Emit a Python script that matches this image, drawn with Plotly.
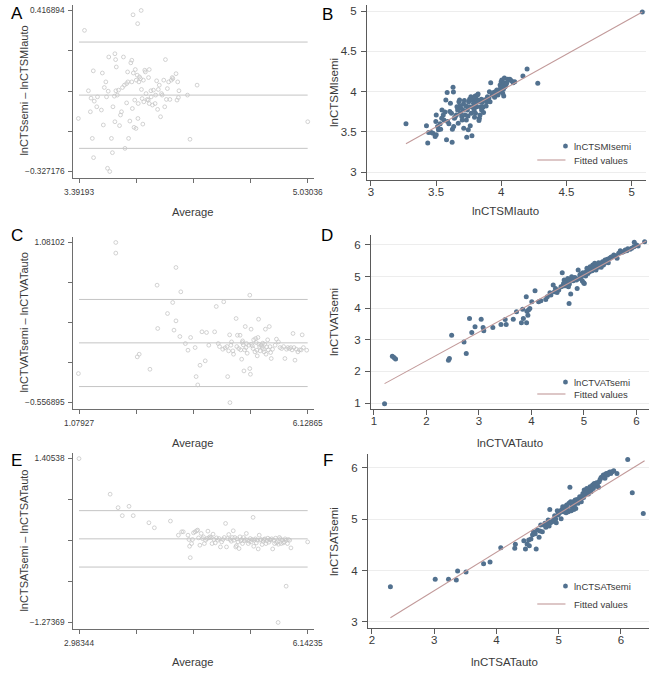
import numpy as np
import plotly.graph_objects as go

W, H = 663, 673
FONT = "Liberation Sans, Arial, Helvetica, sans-serif"

# ---------------- data ----------------
# Panel A: Bland-Altman lnCTSMI
a_avg = [3.387, 3.431, 3.459, 3.473, 3.478, 3.494, 3.501, 3.487, 3.496, 3.524,
         3.519, 3.552, 3.559, 3.566, 3.573, 3.584, 3.589, 3.601, 3.605, 3.596,
         3.612, 3.624, 3.631, 3.635, 3.645, 3.649, 3.654, 3.656, 3.659, 3.649,
         3.666, 3.675, 3.682, 3.689, 3.696, 3.703, 3.710, 3.717, 3.721, 3.733,
         3.733, 3.740, 3.742, 3.747, 3.756, 3.763, 3.770, 3.770, 3.774, 3.779,
         3.781, 3.786, 3.791, 3.795, 3.800, 3.802, 3.809, 3.812, 3.814, 3.816,
         3.821, 3.825, 3.832, 3.837, 3.839, 3.844, 3.849, 3.853, 3.856, 3.863,
         3.867, 3.872, 3.881, 3.888, 3.890, 3.895, 3.895, 3.907, 3.909, 3.918,
         3.925, 3.937, 3.941, 3.948, 3.955, 3.960, 3.967, 3.976, 3.983, 3.988,
         3.999, 4.006, 4.011, 4.018, 4.025, 4.034, 4.043, 4.053, 4.060, 4.064,
         4.087, 4.094, 4.099, 4.104, 4.108, 4.169, 4.187, 4.238, 5.031]
a_diff = [-0.082, 0.325, 0.046, -0.051, 0.012, 0.138, -0.002, -0.174, -0.263, 0.018,
          -0.028, -0.043, 0.128, -0.112, 0.061, 0.087, 0.018, 0.044, 0.202, -0.312,
          -0.327, -0.174, -0.240, -0.028, 0.021, 0.217, 0.190, 0.046, 0.156, -0.097,
          0.026, 0.049, -0.115, -0.066, -0.051, 0.061, 0.202, 0.072, -0.220, -0.010,
          0.079, 0.133, 0.087, -0.174, -0.094, 0.175, 0.187, 0.087, -0.036, 0.397,
          0.128, -0.123, 0.003, 0.144, -0.128, 0.095, 0.118, 0.356, -0.082, -0.013,
          0.087, 0.110, 0.102, 0.417, 0.052, 0.010, -0.108, 0.095, -0.005, 0.141,
          0.133, 0.033, 0.006, 0.003, 0.107, 0.144, -0.013, 0.046, 0.018, -0.020,
          0.049, -0.013, 0.026, 0.092, -0.040, 0.052, 0.072, -0.074, 0.033, 0.026,
          0.095, -0.028, 0.190, 0.006, 0.056, 0.087, 0.006, 0.095, 0.107, 0.102,
          0.125, 0.003, 0.087, 0.015, 0.046, 0.026, -0.178, 0.072, -0.097]
a_limits = [0.271, 0.026, -0.220]
a_xends = [3.39193, 5.03036]
a_yends = [-0.327176, 0.416894]
a_xticklabels = ["3.39193", "", "", "", "5.03036"]
a_yticklabels = ["\u22120.327176", "", "", "", "0.416894"]

# Panel B: lnCTSMIsemi vs lnCTSMIauto
b_auto = [3.269, 3.426, 3.436, 3.443, 3.463, 3.476, 3.493, 3.501, 3.498, 3.501,
          3.511, 3.518, 3.531, 3.535, 3.543, 3.545, 3.555, 3.560, 3.568, 3.575,
          3.580, 3.585, 3.588, 3.598, 3.605, 3.610, 3.618, 3.623, 3.625, 3.630,
          3.633, 3.635, 3.640, 3.645, 3.655, 3.660, 3.665, 3.670, 3.675, 3.680,
          3.682, 3.687, 3.692, 3.697, 3.700, 3.705, 3.710, 3.712, 3.717, 3.722,
          3.730, 3.732, 3.735, 3.740, 3.745, 3.747, 3.750, 3.755, 3.757, 3.762,
          3.767, 3.770, 3.775, 3.780, 3.782, 3.787, 3.792, 3.795, 3.800, 3.802,
          3.804, 3.809, 3.812, 3.817, 3.819, 3.822, 3.824, 3.829, 3.832, 3.837,
          3.842, 3.847, 3.849, 3.854, 3.859, 3.864, 3.869, 3.879, 3.884, 3.889,
          3.894, 3.899, 3.904, 3.909, 3.914, 3.919, 3.929, 3.941, 3.949, 3.954,
          3.959, 3.966, 3.974, 3.984, 3.991, 3.996, 3.996, 3.999, 4.004, 4.009,
          4.011, 4.016, 4.019, 4.021, 4.024, 4.029, 4.034, 4.041, 4.049, 4.054,
          4.066, 4.078, 4.091, 4.103, 4.166, 4.198, 4.280, 5.082]
b_semi = [3.598, 3.573, 3.359, 3.491, 3.491, 3.482, 3.441, 3.462, 3.627, 3.709,
          3.565, 3.524, 3.598, 3.532, 3.668, 3.771, 3.709, 3.647, 3.746, 3.895,
          3.400, 3.986, 3.627, 3.598, 3.750, 3.854, 3.730, 3.371, 3.532, 4.052,
          3.994, 3.565, 3.668, 3.680, 3.709, 3.812, 3.771, 3.606, 3.874, 3.895,
          3.821, 3.730, 3.792, 3.689, 3.647, 3.771, 3.845, 3.544, 3.887, 3.709,
          3.821, 3.647, 3.433, 3.771, 3.697, 3.524, 3.874, 3.812, 3.903, 3.573,
          3.936, 3.730, 3.449, 3.804, 3.895, 3.854, 3.771, 3.680, 3.944, 3.730,
          3.915, 3.862, 3.812, 3.957, 3.895, 3.969, 3.874, 3.639, 3.668, 3.709,
          3.812, 3.903, 3.771, 3.862, 3.804, 3.738, 3.895, 3.895, 3.821, 3.874,
          3.936, 3.895, 3.915, 3.998, 3.874, 4.109, 3.957, 3.986, 3.928, 3.998,
          3.969, 4.019, 3.957, 4.019, 4.080, 4.052, 3.998, 4.122, 4.142, 4.068,
          3.977, 4.027, 3.944, 4.109, 4.167, 4.060, 4.080, 4.101, 4.151, 4.142,
          4.151, 4.134, 4.109, 4.122, 4.192, 4.278, 4.101, 4.988]
b_fit_x = [3.269, 5.082]
b_fit_y = [3.351, 4.988]
b_ticks = [3, 3.5, 4, 4.5, 5]

# Panel C: Bland-Altman lnCTVAT
c_avg = [1.065, 1.891, 1.891, 2.365, 2.408, 2.645, 2.803, 2.817, 3.033, 3.148,
         3.176, 3.220, 3.220, 3.306, 3.327, 3.428, 3.485, 3.543, 3.643, 3.665,
         3.701, 3.751, 3.794, 3.866, 3.895, 3.945, 4.074, 4.110, 4.153, 4.182,
         4.254, 4.275, 4.304, 4.347, 4.362, 4.383, 4.405, 4.412, 4.433, 4.448,
         4.477, 4.491, 4.548, 4.563, 4.577, 4.606, 4.635, 4.649, 4.671, 4.685,
         4.692, 4.706, 4.721, 4.735, 4.750, 4.764, 4.778, 4.793, 4.829, 4.850,
         4.850, 4.864, 4.879, 4.886, 4.908, 4.922, 4.936, 4.965, 4.979, 4.994,
         5.008, 5.015, 5.030, 5.044, 5.051, 5.066, 5.080, 5.101, 5.123, 5.137,
         5.152, 5.166, 5.180, 5.195, 5.209, 5.224, 5.245, 5.259, 5.281, 5.295,
         5.310, 5.324, 5.353, 5.410, 5.439, 5.482, 5.518, 5.554, 5.597, 5.626,
         5.662, 5.690, 5.726, 5.755, 5.784, 5.805, 5.827, 5.848, 5.877, 5.913,
         5.949, 5.985, 6.007, 6.035, 6.107]
c_diff = [-0.260, 1.081, 0.972, -0.089, -0.062, -0.216, 0.644, 0.201, 0.354, 0.467,
          0.184, 0.825, 0.279, 0.119, 0.576, 0.047, -0.021, 0.109, 0.006, -0.291,
          -0.376, -0.175, 0.167, -0.130, 0.160, 0.030, 0.167, 0.426, 0.047, 0.016,
          -0.011, 0.474, 0.003, 0.016, -0.291, -0.028, 0.136, -0.557, 0.030, 0.064,
          -0.028, -0.062, 0.303, 0.016, 0.132, -0.004, 0.132, -0.018, -0.113, 0.057,
          0.074, 0.034, -0.233, -0.018, 0.221, 0.006, 0.047, -0.052, 0.030, 0.542,
          -0.209, -0.267, 0.194, 0.040, 0.023, -0.004, 0.085, -0.038, 0.098, 0.057,
          -0.021, -0.079, 0.109, 0.296, 0.040, 0.016, -0.028, 0.030, 0.006, 0.051,
          -0.011, -0.038, 0.040, 0.194, -0.062, 0.013, 0.085, -0.018, 0.221, 0.016,
          -0.045, -0.106, -0.011, 0.030, 0.092, 0.064, 0.006, -0.004, 0.016, -0.106,
          -0.011, 0.006, -0.004, 0.006, -0.018, 0.150, 0.006, -0.123, -0.011, -0.038,
          -0.018, -0.018, 0.136, 0.006, -0.021]
c_limits = [0.498, 0.054, -0.393]
c_xends = [1.07927, 6.12865]
c_yends = [-0.556895, 1.08102]
c_xticklabels = ["1.07927", "", "", "", "6.12865"]
c_yticklabels = ["\u22120.556895", "", "", "", "1.08102"]

# Panel D: lnCTVATsemi vs lnCTVATauto
d_auto = [1.204, 1.352, 1.383, 1.414, 2.420, 2.438, 2.481, 2.716, 2.759, 2.821,
          2.864, 2.926, 3.043, 3.080, 3.093, 3.265, 3.420, 3.500, 3.519, 3.654,
          3.716, 3.809, 3.833, 3.846, 3.901, 3.907, 3.914, 3.932, 3.944, 3.969,
          4.006, 4.068, 4.136, 4.179, 4.272, 4.302, 4.352, 4.370, 4.414, 4.438,
          4.457, 4.488, 4.519, 4.562, 4.586, 4.599, 4.611, 4.623, 4.642, 4.660,
          4.673, 4.691, 4.704, 4.716, 4.722, 4.735, 4.747, 4.765, 4.796, 4.827,
          4.858, 4.870, 4.889, 4.907, 4.920, 4.938, 4.951, 4.969, 4.981, 4.994,
          5.006, 5.019, 5.031, 5.043, 5.056, 5.074, 5.086, 5.105, 5.117, 5.136,
          5.154, 5.167, 5.185, 5.204, 5.216, 5.228, 5.247, 5.265, 5.278, 5.290,
          5.309, 5.327, 5.340, 5.352, 5.370, 5.389, 5.401, 5.426, 5.444, 5.463,
          5.488, 5.512, 5.537, 5.568, 5.599, 5.630, 5.660, 5.691, 5.722, 5.753,
          5.784, 5.815, 5.833, 5.877, 5.907, 5.951, 5.957, 6.000, 6.031, 6.154]
d_semi = [0.979, 2.480, 2.438, 2.395, 2.353, 2.406, 3.146, 2.934, 2.564, 3.674,
          3.230, 3.410, 3.653, 3.389, 3.283, 3.389, 3.484, 3.643, 3.484, 3.653,
          3.886, 3.537, 3.970, 3.674, 4.362, 3.537, 3.907, 3.780, 3.939, 3.992,
          4.203, 4.552, 4.203, 4.235, 4.277, 4.362, 4.488, 4.414, 4.731, 4.520,
          4.626, 4.499, 4.573, 4.679, 5.123, 4.700, 4.784, 4.890, 4.710, 4.837,
          4.763, 4.943, 4.679, 4.150, 4.763, 4.890, 4.446, 4.996, 4.869, 4.975,
          4.890, 4.626, 5.207, 4.943, 5.049, 5.080, 4.996, 4.858, 5.123, 4.805,
          4.784, 5.101, 5.017, 5.154, 5.260, 5.101, 5.207, 5.154, 5.313, 5.228,
          5.186, 5.366, 5.292, 5.419, 5.313, 5.207, 5.334, 5.292, 5.440, 5.366,
          5.334, 5.292, 5.419, 5.471, 5.366, 5.419, 5.524, 5.471, 5.545, 5.440,
          5.577, 5.609, 5.630, 5.683, 5.651, 5.577, 5.736, 5.820, 5.767, 5.789,
          5.841, 5.820, 5.884, 5.863, 5.894, 5.947, 6.085, 6.000, 5.968, 6.106]
d_fit_x = [1.204, 6.185]
d_fit_y = [1.613, 6.127]
d_ticks = [1, 2, 3, 4, 5, 6]

# Panel E: Bland-Altman lnCTSAT
e_avg = [2.983, 3.413, 3.523, 3.581, 3.674, 3.732, 3.949, 4.024, 4.246, 4.356,
         4.401, 4.423, 4.489, 4.502, 4.511, 4.520, 4.538, 4.551, 4.565, 4.587,
         4.609, 4.622, 4.635, 4.653, 4.671, 4.689, 4.702, 4.715, 4.733, 4.751,
         4.764, 4.777, 4.790, 4.808, 4.821, 4.835, 4.848, 4.866, 4.883, 4.901,
         4.919, 4.937, 4.954, 4.972, 4.990, 5.008, 5.021, 5.034, 5.052, 5.070,
         5.087, 5.101, 5.114, 5.123, 5.136, 5.149, 5.158, 5.167, 5.180, 5.194,
         5.207, 5.220, 5.229, 5.242, 5.256, 5.269, 5.282, 5.295, 5.309, 5.322,
         5.335, 5.349, 5.362, 5.375, 5.388, 5.397, 5.406, 5.420, 5.433, 5.446,
         5.459, 5.473, 5.486, 5.499, 5.513, 5.526, 5.539, 5.552, 5.566, 5.579,
         5.592, 5.606, 5.619, 5.632, 5.645, 5.659, 5.672, 5.685, 5.699, 5.712,
         5.725, 5.738, 5.752, 5.765, 5.778, 5.792, 5.805, 5.818, 5.831, 5.845,
         5.845, 5.863, 5.876, 5.894, 5.911, 6.142, 5.734]
e_diff = [1.405, 0.823, 0.603, 0.472, 0.625, 0.472, 0.356, 0.274, 0.384, 0.153,
          0.208, 0.208, 0.153, 0.082, -0.028, -0.215, 0.016, 0.082, 0.192, 0.208,
          0.225, 0.236, 0.109, -0.011, 0.181, 0.098, 0.126, 0.016, 0.071, 0.098,
          0.219, 0.109, 0.126, 0.115, 0.016, 0.170, 0.082, 0.027, 0.109, 0.071,
          0.098, -0.039, 0.043, 0.082, 0.115, 0.345, -0.039, 0.098, 0.164, 0.082,
          0.054, 0.115, 0.225, 0.071, 0.115, -0.039, -0.017, 0.093, 0.043, -0.066,
          0.126, 0.060, 0.082, 0.016, 0.115, 0.060, 0.082, 0.181, 0.071, 0.016,
          0.054, 0.098, 0.043, 0.082, 0.444, -0.028, 0.071, 0.093, 0.027, 0.071,
          -0.072, 0.153, 0.071, 0.082, 0.000, 0.054, 0.082, 0.093, 0.016, 0.060,
          0.104, 0.038, 0.082, 0.071, 0.093, -0.072, 0.071, 0.016, 0.104, 0.027,
          0.043, 0.005, 0.115, 0.093, 0.016, 0.071, 0.027, 0.043, 0.093, -0.681,
          0.071, 0.016, 0.082, 0.071, -0.055, 0.043, -1.274]
e_limits = [0.554, 0.093, -0.368]
e_xends = [2.98344, 6.14235]
e_yends = [-1.27369, 1.40538]
e_xticklabels = ["2.98344", "", "", "", "6.14235"]
e_yticklabels = ["\u22121.27369", "", "", "", "1.40538"]

# Panel F: lnCTSATsemi vs lnCTSATauto
f_auto = [2.297, 3.017, 3.231, 3.356, 3.377, 3.512, 3.794, 3.898, 4.070, 4.295,
          4.305, 4.441, 4.467, 4.493, 4.519, 4.529, 4.555, 4.581, 4.597, 4.623,
          4.639, 4.660, 4.686, 4.701, 4.712, 4.738, 4.764, 4.780, 4.795, 4.816,
          4.832, 4.847, 4.858, 4.868, 4.894, 4.920, 4.936, 4.952, 4.962, 4.978,
          4.988, 5.004, 5.014, 5.030, 5.040, 5.056, 5.066, 5.077, 5.087, 5.103,
          5.119, 5.129, 5.139, 5.155, 5.166, 5.181, 5.192, 5.202, 5.213, 5.223,
          5.233, 5.244, 5.254, 5.265, 5.275, 5.286, 5.296, 5.312, 5.327, 5.338,
          5.353, 5.364, 5.379, 5.390, 5.400, 5.411, 5.421, 5.432, 5.442, 5.452,
          5.468, 5.478, 5.494, 5.505, 5.520, 5.536, 5.546, 5.557, 5.572, 5.588,
          5.598, 5.609, 5.625, 5.640, 5.651, 5.666, 5.682, 5.703, 5.718, 5.734,
          5.744, 5.755, 5.771, 5.786, 5.807, 5.823, 5.838, 5.859, 5.885, 5.937,
          6.110, 6.183, 6.360]
f_semi = [3.687, 3.829, 3.829, 3.816, 3.991, 3.972, 4.134, 4.166, 4.445, 4.432,
          4.510, 4.581, 4.419, 4.516, 4.594, 4.484, 4.613, 4.698, 4.756, 4.717,
          4.419, 4.788, 4.646, 4.769, 4.885, 4.756, 4.885, 4.918, 4.840, 4.905,
          4.983, 4.866, 5.190, 4.931, 4.950, 4.983, 5.067, 5.002, 4.931, 5.164,
          5.080, 5.112, 5.125, 5.164, 5.009, 5.190, 5.242, 5.145, 5.209, 5.242,
          5.125, 5.274, 5.209, 5.145, 5.307, 5.618, 5.339, 5.164, 5.242, 5.307,
          5.339, 5.190, 5.274, 5.371, 5.209, 5.339, 5.384, 5.307, 5.359, 5.436,
          5.404, 5.339, 5.449, 5.501, 5.423, 5.566, 5.469, 5.533, 5.501, 5.598,
          5.566, 5.488, 5.579, 5.631, 5.533, 5.631, 5.663, 5.598, 5.695, 5.644,
          5.682, 5.708, 5.695, 5.618, 5.728, 5.773, 5.812, 5.825, 5.857, 5.838,
          5.793, 5.877, 5.890, 5.857, 5.903, 5.916, 5.890, 5.922, 5.942, 5.890,
          6.162, 5.514, 5.112]
f_fit_x = [2.297, 6.381]
f_fit_y = [3.084, 6.136]
f_xticks = [2, 3, 4, 5, 6]
f_yticks = [3, 4, 5, 6]

# ---------------- styling ----------------
GREY_PT = "#c6c6c6"
GREY_LINE = "#c4c4c4"
BA_AXIS = "#6e6e6e"
SC_AXIS = "#5a5a5a"
BLUE = "#52718f"
FIT = "#c29a9a"
TXT = "#3a3a3a"

fig = go.Figure()


def ax_names(n):
    s = "" if n == 1 else str(n)
    return "x" + s, "y" + s, "xaxis" + s, "yaxis" + s


def xdom(p0, p1):
    return [p0 / W, p1 / W]


def ydom(p0, p1):
    return [1 - p1 / H, 1 - p0 / H]


def ba_panel(n, avg, diff, limits, xends, yends, xlab, ylab, xd, yd):
    xa, ya, xk, yk = ax_names(n)
    for v in limits:
        fig.add_trace(go.Scatter(x=xends, y=[v, v], mode="lines",
                                 line=dict(color=GREY_LINE, width=1),
                                 xaxis=xa, yaxis=ya, showlegend=False, hoverinfo="skip"))
    fig.add_trace(go.Scatter(x=avg, y=diff, mode="markers",
                             marker=dict(symbol="circle-open", size=3.8, color=GREY_PT,
                                         line=dict(width=0.8)),
                             xaxis=xa, yaxis=ya, showlegend=False))
    xs = xends[1] - xends[0]
    ys = yends[1] - yends[0]
    common = dict(showline=True, linecolor=BA_AXIS, linewidth=1, ticks="outside",
                  ticklen=4, tickcolor=BA_AXIS, tickwidth=1, showgrid=False,
                  zeroline=False, tickfont=dict(family=FONT, size=8.3, color=TXT))
    fig.update_layout(**{
        xk: dict(domain=xdom(*xd), anchor=ya,
                 range=[xends[0] - 0.0255 * xs, xends[1] + 0.0255 * xs],
                 tickvals=list(np.linspace(xends[0], xends[1], 5)), ticktext=xlab,
                 ticklabelstandoff=2, **common),
        yk: dict(domain=ydom(*yd), anchor=xa,
                 range=[yends[0] - 0.04 * ys, yends[1] + 0.034 * ys],
                 tickvals=list(np.linspace(yends[0], yends[1], 5)), ticktext=ylab,
                 ticklabelstandoff=2, **common),
    })


def sc_panel(n, xv, yv, fx, fy, xr, yr, xt, yt, xd, yd):
    xa, ya, xk, yk = ax_names(n)
    fig.add_trace(go.Scatter(x=xv, y=yv, mode="markers",
                             marker=dict(symbol="circle", size=5, color=BLUE),
                             xaxis=xa, yaxis=ya, showlegend=False))
    fig.add_trace(go.Scatter(x=fx, y=fy, mode="lines", line=dict(color=FIT, width=1.1),
                             xaxis=xa, yaxis=ya, showlegend=False, hoverinfo="skip"))
    common = dict(showline=True, linecolor=SC_AXIS, linewidth=1, ticks="outside",
                  ticklen=5, tickcolor=SC_AXIS, tickwidth=1, zeroline=False,
                  tickfont=dict(family=FONT, size=11.5, color=TXT))
    fig.update_layout(**{
        xk: dict(domain=xdom(*xd), anchor=ya, range=xr, tickvals=xt, showgrid=False,
                 ticklabelstandoff=-4, **common),
        yk: dict(domain=ydom(*yd), anchor=xa, range=yr, tickvals=yt, showgrid=True,
                 gridcolor="#ededed", gridwidth=1, ticklabelstandoff=2, **common),
    })


ba_panel(1, a_avg, a_diff, a_limits, a_xends, a_yends, a_xticklabels, a_yticklabels,
         (66, 313), (5, 178))
sc_panel(2, b_auto, b_semi, b_fit_x, b_fit_y, [2.970, 5.112], [2.9006, 5.0745],
         b_ticks, b_ticks, (368, 655), (5, 180))
ba_panel(3, c_avg, c_diff, c_limits, c_xends, c_yends, c_xticklabels, c_yticklabels,
         (66, 313), (237, 409))
sc_panel(4, d_auto, d_semi, d_fit_x, d_fit_y, [0.944, 6.24], [0.81, 6.316],
         d_ticks, d_ticks, (372, 658), (235, 409))
ba_panel(5, e_avg, e_diff, e_limits, e_xends, e_yends, e_xticklabels, e_yticklabels,
         (66, 313), (453, 629))
sc_panel(6, f_auto, f_semi, f_fit_x, f_fit_y, [1.937, 6.454], [2.883, 6.267],
         f_xticks, f_yticks, (369, 658), (454, 628))

# ---------------- text: titles, panel letters, legends ----------------
annotations = []
shapes = []


def text(px, py, s, size, angle=0, xanchor="center", color=TXT):
    annotations.append(dict(x=px / W, y=1 - py / H, xref="paper", yref="paper", text=s,
                            showarrow=False, textangle=angle, xanchor=xanchor,
                            yanchor="middle", font=dict(family=FONT, size=size, color=color)))


# axis titles
for py in (212, 443, 662):
    text(189, py, "Average", 11.2)
text(15, 91, "lnCTSsemi \u2013 lnCTSMIauto", 11, angle=-90)
text(15, 323, "lnCTVATsemi \u2013 lnCTVATauto", 11, angle=-90)
text(15, 541, "lnCTSATsemi \u2013 lnCTSATauto", 11, angle=-90)
text(510, 211, "lnCTSMIauto", 11.5)
text(515, 443, "lnCTVATauto", 11.5)
text(509, 662, "lnCTSATauto", 11.5)
text(334, 92, "lnCTSMIsemi", 11.5, angle=-90)
text(334, 322, "lnCTVATsemi", 11.5, angle=-90)
text(334, 541, "lnCTSATsemi", 11.5, angle=-90)

# panel letters
for (px, py, s) in [(8, 13, "A"), (327, 14, "B"), (8, 236, "C"),
                    (327, 236, "D"), (8, 460, "E"), (328, 460, "F")]:
    text(px, py, s, 17, color="#000000")

# legends (marker row, line row)
for (my, ly, name) in [(146, 160, "lnCTSMIsemi"), (382, 394, "lnCTVATsemi"),
                       (586, 604, "lnCTSATsemi")]:
    shapes.append(dict(type="circle", xref="paper", yref="paper",
                       x0=(572 - 2.5) / W, x1=(572 + 2.5) / W,
                       y0=1 - (my + 2.5) / H, y1=1 - (my - 2.5) / H,
                       fillcolor=BLUE, line=dict(width=0)))
    shapes.append(dict(type="line", xref="paper", yref="paper",
                       x0=543 / W, x1=572 / W, y0=1 - ly / H, y1=1 - ly / H,
                       line=dict(color=FIT, width=1.1)))
    text(579, my, name, 9.5, xanchor="left")
    text(579, ly, "Fitted values", 9.5, xanchor="left")

fig.update_layout(width=W, height=H, margin=dict(l=0, r=0, t=0, b=0),
                  paper_bgcolor="white", plot_bgcolor="white",
                  annotations=annotations, shapes=shapes, showlegend=False,
                  font=dict(family=FONT, color=TXT))

fig.write_html("out.html", config={"displayModeBar": False},
               post_script="document.body.style.margin='0';"
                           "document.body.style.padding='0';"
                           "document.body.style.overflow='hidden';")
